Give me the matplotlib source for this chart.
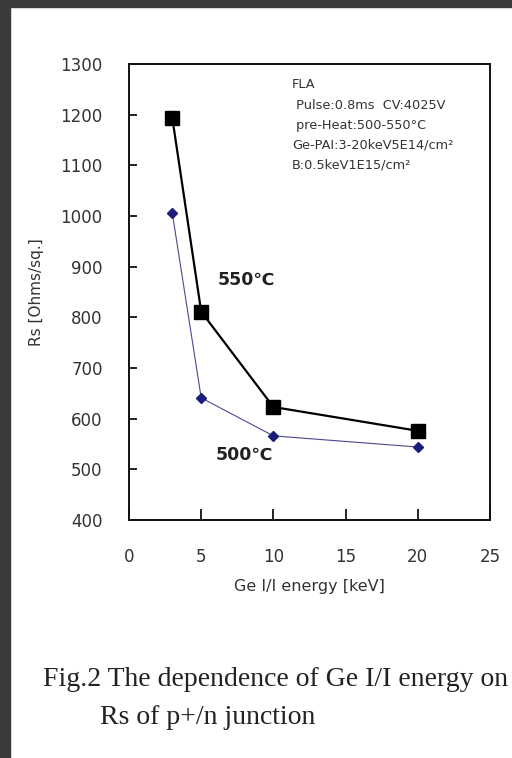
import matplotlib.pyplot as plt
from matplotlib.patches import Rectangle

# data
energy = [3, 5, 10, 20]
rs_550 = [1193, 811, 623, 576]
rs_500 = [1005, 641, 566, 544]

info_lines = ["FLA",
              " Pulse:0.8ms  CV:4025V",
              " pre-Heat:500-550\u00b0C",
              "Ge-PAI:3-20keV5E14/cm\u00b2",
              "B:0.5keV1E15/cm\u00b2"]

fig = plt.figure(figsize=(5.12, 7.58), dpi=100)
fig.patch.set_facecolor("white")

# dark page border on top / left
fig.patches.append(Rectangle((0, 0), 10 / 512, 1, transform=fig.transFigure,
                             color="#3a3a3a", zorder=0))
fig.patches.append(Rectangle((0, 1 - 7 / 758), 1, 7 / 758, transform=fig.transFigure,
                             color="#3a3a3a", zorder=0))

ax = fig.add_axes([0.252, 0.314, 0.705, 0.6016])

ax.plot(energy, rs_550, color="black", lw=1.6, marker="s", ms=9.5,
        markerfacecolor="black", markeredgecolor="black")
ax.plot(energy, rs_500, color="#4a4a90", lw=0.8, marker="D", ms=5,
        markerfacecolor="#1c1c7a", markeredgecolor="#1c1c7a")

ax.set_xlim(0, 25)
ax.set_ylim(400, 1300)
ax.set_xticks([0, 5, 10, 15, 20, 25])
ax.set_yticks(range(400, 1301, 100))

for s in ax.spines.values():
    s.set_linewidth(1.4)
    s.set_color("#111111")

ax.tick_params(axis="x", direction="in", length=8, width=1.2, pad=20,
               labelsize=12, labelcolor="#333333")
ax.tick_params(axis="y", direction="in", length=6, width=1.2, pad=19,
               labelsize=12, labelcolor="#333333")

ax.set_xlabel("Ge I/I energy [keV]", fontsize=11.5, color="#333333")
ax.set_ylabel("Rs [Ohms/sq.]", fontsize=11, color="#333333")
ax.xaxis.set_label_coords(0.5, -0.13)
ax.yaxis.set_label_coords(-0.235, 0.5)

ax.text(8.1, 874, "550\u2103", fontsize=12.5, fontweight="bold",
        ha="center", va="center", color="#222222")
ax.text(8.0, 528, "500\u2103", fontsize=12.5, fontweight="bold",
        ha="center", va="center", color="#222222")

y0 = 0.954
for i, line in enumerate(info_lines):
    ax.text(0.451, y0 - i * 0.044, line, transform=ax.transAxes,
            fontsize=9.3, ha="left", va="center", color="#333333")

fig.text(43 / 512, 1 - 680 / 758, "Fig.2 The dependence of Ge I/I energy on",
         fontsize=20, family="Liberation Serif", ha="left", va="center",
         color="#222222")
fig.text(100 / 512, 1 - 718 / 758, "Rs of p+/n junction",
         fontsize=20, family="Liberation Serif", ha="left", va="center",
         color="#222222")

fig.savefig("out.png", dpi=100)
